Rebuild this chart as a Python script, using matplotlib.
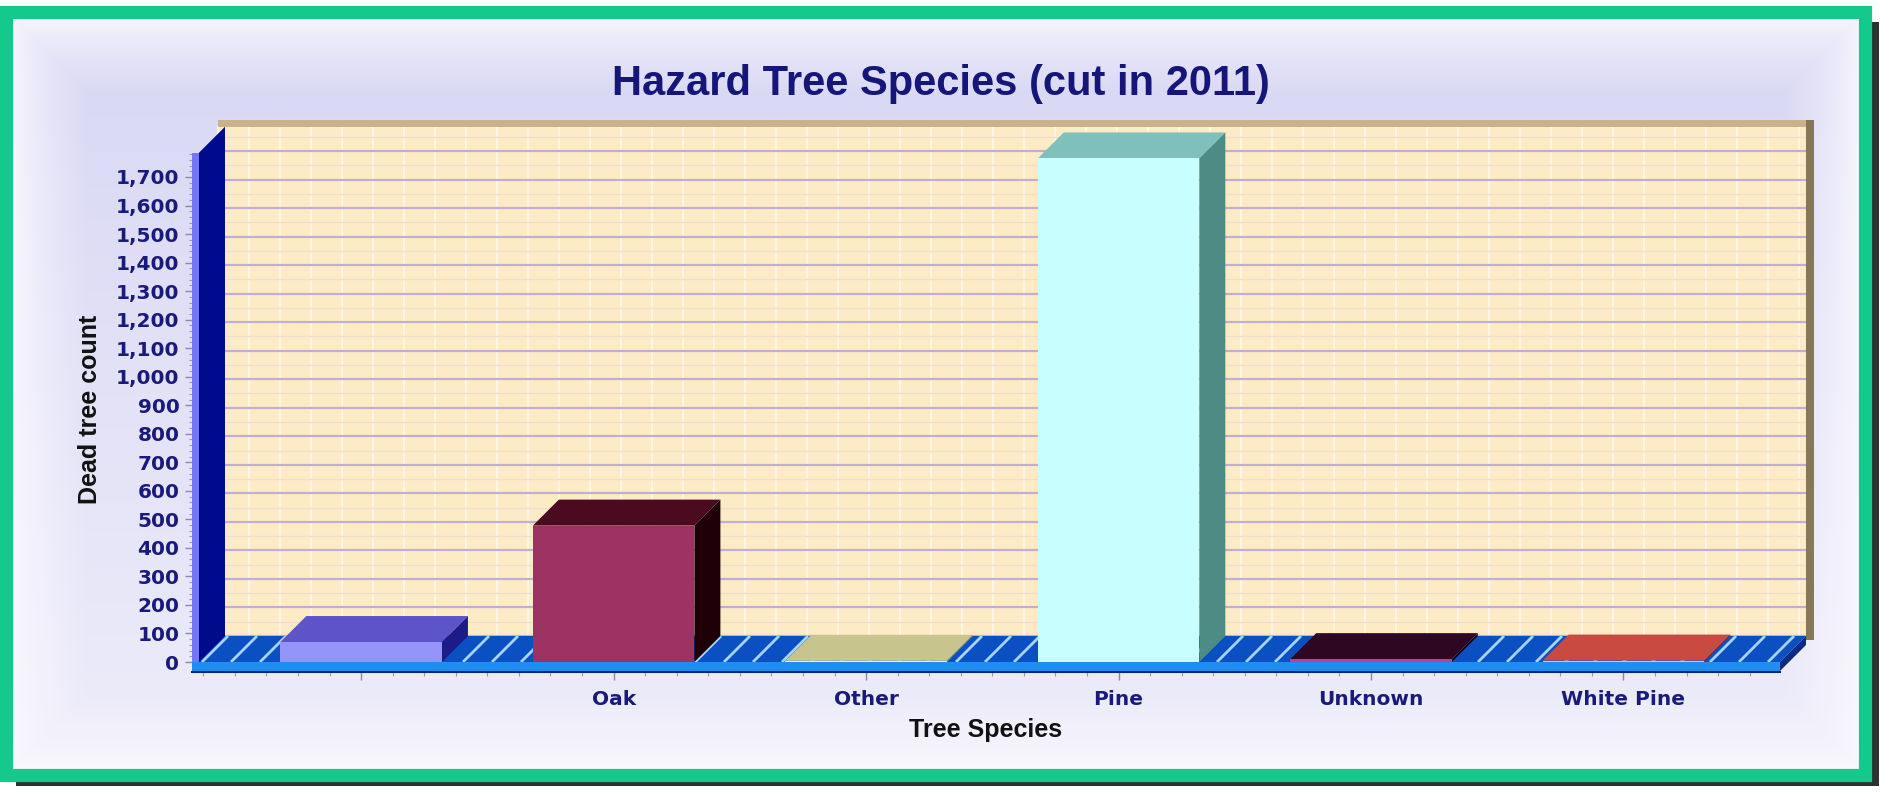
import numpy as np
import matplotlib.pyplot as plt
from matplotlib.patches import Polygon, Rectangle
from matplotlib.ticker import FuncFormatter, MultipleLocator

species = ['', 'Oak', 'Other', 'Pine', 'Unknown', 'White Pine']
counts = [70, 478, 4, 1765, 10, 5]
y_ticks = list(range(0, 1800, 100))

# face colours of each 3D bar: front / top / right side
front_col = ['#9494fa', '#9c3262', '#eeead2', '#c8fefe', '#c23c9e', '#f2bc9c']
top_col = ['#5c54c8', '#4c0a20', '#c8c48e', '#80c0bc', '#2e0822', '#c84a40']
side_col = ['#1c1c88', '#200008', '#9c9868', '#4c8c84', '#1a0010', '#8c2820']

W, H = 1883, 794
fig = plt.figure(figsize=(W / 100, H / 100), dpi=100)
fig.patch.set_facecolor('white')

# ---- panel background, green frame, drop shadow (pixel coords)
bg = fig.add_axes([0, 0, 1, 1])
bg.set_xlim(0, W); bg.set_ylim(H, 0); bg.axis('off')
bg.add_patch(Rectangle((16, 22), W - 20, H - 30, fc='#2a332e', ec='none', zorder=0))
px0, px1, py0, py1 = 6, 1865, 12, 775
yy, xx = np.mgrid[py0:py1, px0:px1]
d = np.minimum.reduce([xx - px0, px1 - xx, yy - py0, py1 - yy]).astype(float)
fade = np.clip(d / 80, 0, 1) ** 0.7
t = ((yy - py0) / (py1 - py0))[..., None]
inner = np.array([216, 215, 244]) / 255 * (1 - t) + np.array([238, 237, 250]) / 255 * t
img = np.array([252, 251, 255]) / 255 * (1 - fade[..., None]) + inner * fade[..., None]
bg.imshow(img, extent=(px0, px1, py1, py0), aspect='auto', zorder=1)
bg.add_patch(Rectangle((px0, py0), px1 - px0, py1 - py0, fc='none', ec='#14c98c',
                       lw=9.5, zorder=2))

# ---- main axes = front plane of the 3D box
FX0, FX1, FY0 = 192, 1780, 662
YMAX = 1785
PPU = 0.2853                      # pixels per count
XL = (-0.67, 5.62)
ax = fig.add_axes([FX0 / W, 1 - FY0 / H, (FX1 - FX0) / W, YMAX * PPU / H])
ax.set_xlim(*XL); ax.set_ylim(0, YMAX)
ax.patch.set_alpha(0)
for s in ax.spines.values():
    s.set_visible(False)

PPC = (FX1 - FX0) / (XL[1] - XL[0])   # pixels per category
cx = lambda p: p / PPC
cy = lambda p: p / PPU
DX, DY = cx(26), cy(26)               # depth offset
x0, x1 = XL


def poly(pts, fc, z, **kw):
    ax.add_patch(Polygon(pts, closed=True, fc=fc, ec='none', zorder=z, clip_on=False, **kw))


# back wall
poly([(x0 + DX, DY), (x1 + DX, DY), (x1 + DX, YMAX + DY), (x0 + DX, YMAX + DY)], '#fdebc6', 0.2)
for xv in np.arange(x0 + DX, x1 + DX, cx(31)):
    ax.plot([xv, xv], [DY, YMAX + DY], color='#fff5e2', lw=1.5, zorder=0.3, clip_on=False)
for yv in np.arange(50, YMAX, 100):
    ax.plot([x0 + DX, x1 + DX], [yv + DY] * 2, color='#efdcd0', lw=1, zorder=0.4, clip_on=False)
for yv in y_ticks:
    ax.plot([x0 + DX, x1 + DX], [yv + DY] * 2, color='#c2aed0', lw=1.6, zorder=0.5, clip_on=False)
# top and right edge of the back wall
poly([(x0 + DX, YMAX + DY), (x1 + DX + cx(8), YMAX + DY), (x1 + DX + cx(8), YMAX + DY + cy(7)),
      (x0 + DX, YMAX + DY + cy(7))], '#c9b28c', 0.6)
poly([(x1 + DX, DY - cy(4)), (x1 + DX + cx(8), DY - cy(4)), (x1 + DX + cx(8), YMAX + DY + cy(7)),
      (x1 + DX, YMAX + DY + cy(7))], '#86775a', 0.6)

# floor slab
poly([(x0, 0), (x1, 0), (x1 + DX, DY), (x0 + DX, DY)], '#0a50c2', 1)
for xv in np.arange(x0 + cx(10), x1, cx(29)):
    ax.plot([xv, xv + DX], [0, DY], color='#a8d4ff', lw=2, zorder=1.1, clip_on=False,
            solid_capstyle='butt')
poly([(x0, -cy(9)), (x1, -cy(9)), (x1, 0), (x0, 0)], '#1c8ff0', 3)
poly([(x1, -cy(9)), (x1, 0), (x1 + DX, DY), (x1 + DX, DY - cy(9))], '#0a2a86', 3)
ax.plot([x0, x1], [-cy(9.5)] * 2, color='#0a2a70', lw=1.5, zorder=3, clip_on=False)

# left wall
poly([(x0 + cx(7), 0), (x0 + cx(7) + DX, DY), (x0 + cx(7) + DX, YMAX + DY),
      (x0 + cx(7), YMAX)], '#000a8c', 2)
poly([(x0, -cy(9)), (x0 + cx(7), -cy(9)), (x0 + cx(7), YMAX), (x0, YMAX)], '#7676f4', 2)

# bars
xs = np.arange(len(species))
bw = 0.64
ax.bar(xs, counts, width=bw, color=front_col, zorder=5, clip_on=False)
for i, v in enumerate(counts):
    l, r = xs[i] - bw / 2, xs[i] + bw / 2
    poly([(l, v), (r, v), (r + DX, v + DY), (l + DX, v + DY)], top_col[i], 4)
    poly([(r, 0), (r + DX, DY), (r + DX, v + DY), (r, v)], side_col[i], 4)

# axes ticks and labels
navy = '#1a1a7c'
ax.set_yticks(y_ticks)
ax.yaxis.set_major_formatter(FuncFormatter(lambda v, p: f'{int(v):,}'))
ax.yaxis.set_minor_locator(MultipleLocator(20))
ax.tick_params(axis='y', which='major', length=5, width=1, color='#8a8aa0', pad=4,
               labelsize=14.5, labelcolor=navy)
ax.tick_params(axis='y', which='minor', length=2.5, width=0.8, color='#9a9ab0')
ax.set_xticks(xs)
ax.set_xticklabels(species)
ax.xaxis.set_minor_locator(MultipleLocator(0.125))
ax.tick_params(axis='x', which='major', length=13, width=1, color='#8a8aa0', pad=7,
               labelsize=14.5, labelcolor=navy)
ax.tick_params(axis='x', which='minor', length=10, width=0.8, color='#9a9ab0')
for lab in ax.get_xticklabels() + ax.get_yticklabels():
    lab.set_fontweight('bold')

sans = ['Liberation Sans', 'DejaVu Sans']
fig.text(941 / W, 1 - 84 / H, 'Hazard Tree Species (cut in 2011)', ha='center', va='center',
         fontsize=30, fontweight='bold', color='#16167a', family=sans)
fig.text(90 / W, 1 - 409 / H, 'Dead tree count', rotation=90, ha='center', va='center',
         fontsize=18, fontweight='bold', color='#111111', family=sans)
fig.text(986 / W, 1 - 730 / H, 'Tree Species', ha='center', va='center',
         fontsize=18, fontweight='bold', color='#111111', family=sans)

plt.savefig('out.png', dpi=100)
